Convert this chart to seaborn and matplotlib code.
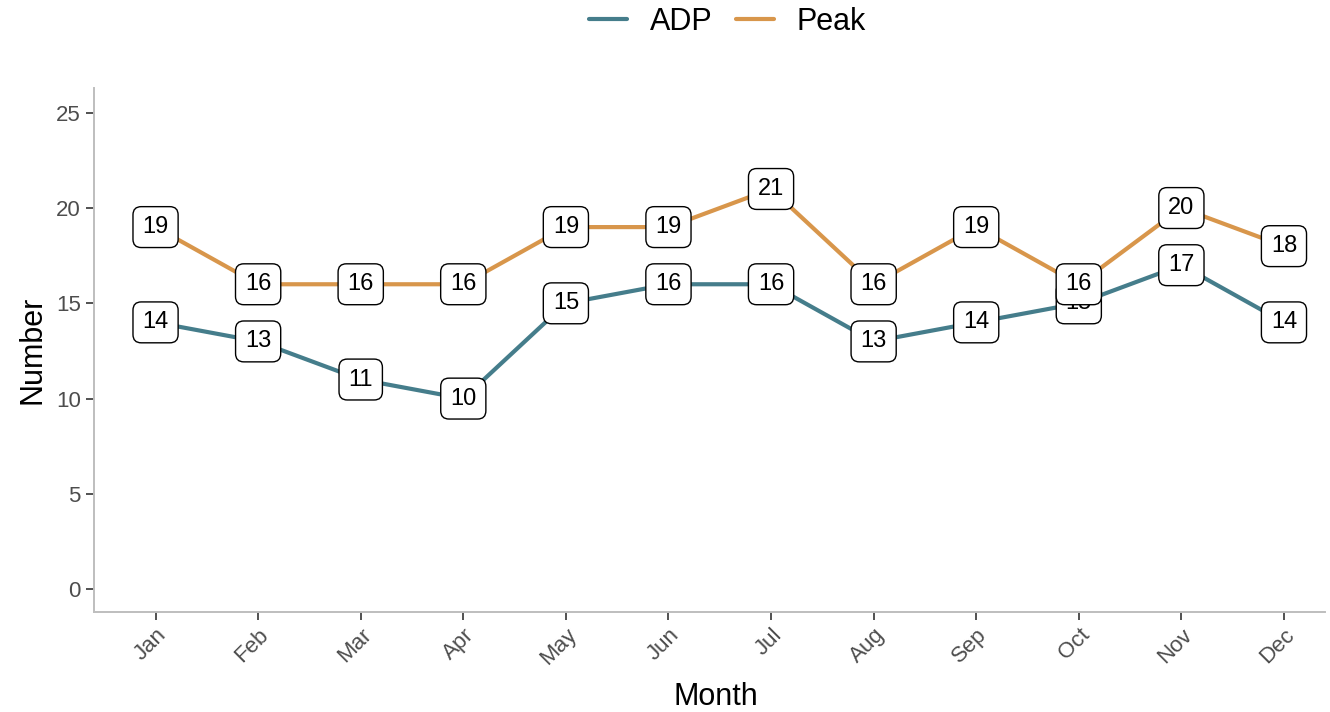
import matplotlib
matplotlib.use("Agg")
import matplotlib.pyplot as plt
import matplotlib.transforms as mtransforms
import seaborn as sns
import pandas as pd

# values
months = ["Jan", "Feb", "Mar", "Apr", "May", "Jun",
          "Jul", "Aug", "Sep", "Oct", "Nov", "Dec"]
adp = [14, 13, 11, 10, 15, 16, 16, 13, 14, 15, 17, 14]
peak = [19, 16, 16, 16, 19, 19, 21, 16, 19, 16, 20, 18]
series_names = ["ADP", "Peak"]
colors = {"ADP": "#457D8B", "Peak": "#D8964B"}

df = pd.DataFrame({
    "Month": months * 2,
    "Number": adp + peak,
    "Series": [series_names[0]] * len(months) + [series_names[1]] * len(months),
})
df["x"] = df.groupby("Series").cumcount()

sns.set_style("white")
plt.rcParams["font.family"] = ["Liberation Sans", "DejaVu Sans"]

fig = plt.figure(figsize=(13.3, 7.12), dpi=100)
ax = fig.add_axes([94 / 1330, 100 / 712, 1231 / 1330, 524 / 712])

sns.lineplot(data=df, x="x", y="Number", hue="Series", palette=colors,
             linewidth=3, ax=ax, legend=True)

# boxed value labels, Peak drawn last so it sits on top
for name in series_names:
    sub = df[df["Series"] == name]
    for _, row in sub.iterrows():
        ax.text(row["x"], row["Number"], str(row["Number"]),
                ha="center", va="center", fontsize=17, color="black", zorder=5,
                bbox=dict(boxstyle="round,pad=0.4,rounding_size=0.35",
                          fc="white", ec="black", lw=1.0))

ax.set_xlim(-0.6, 11.4)
ax.set_ylim(-1.2, 26.3)
ax.set_xticks(range(len(months)))
ax.set_xticklabels(months, rotation=45, ha="right", rotation_mode="anchor")
shift = mtransforms.ScaledTranslation(12 / 100, 0, fig.dpi_scale_trans)
for lbl in ax.get_xticklabels():
    lbl.set_transform(lbl.get_transform() + shift)
ax.set_yticks([0, 5, 10, 15, 20, 25])
ax.tick_params(axis="both", which="both", length=6, width=1.2, color="#333333",
               labelsize=16, labelcolor="#4D4D4D", bottom=True, left=True)
ax.tick_params(axis="x", pad=3)
for s in ["top", "right"]:
    ax.spines[s].set_visible(False)
for s in ["left", "bottom"]:
    ax.spines[s].set_color("#BEBEBE")
    ax.spines[s].set_linewidth(1.4)

ax.set_xlabel("Month", fontsize=22, color="black")
ax.xaxis.set_label_coords(0.505, -0.134)
ax.set_ylabel("Number", fontsize=22, color="black", labelpad=6)

handles, labels = ax.get_legend_handles_labels()
ax.legend(handles, labels, loc="center", bbox_to_anchor=(0.547, 1 - 22 / 712),
          bbox_transform=fig.transFigure, ncol=2, frameon=False, fontsize=22,
          handlelength=1.25, columnspacing=0.75, handletextpad=0.75, title=None,
          labelcolor="black")

fig.savefig("out.png", dpi=100)
